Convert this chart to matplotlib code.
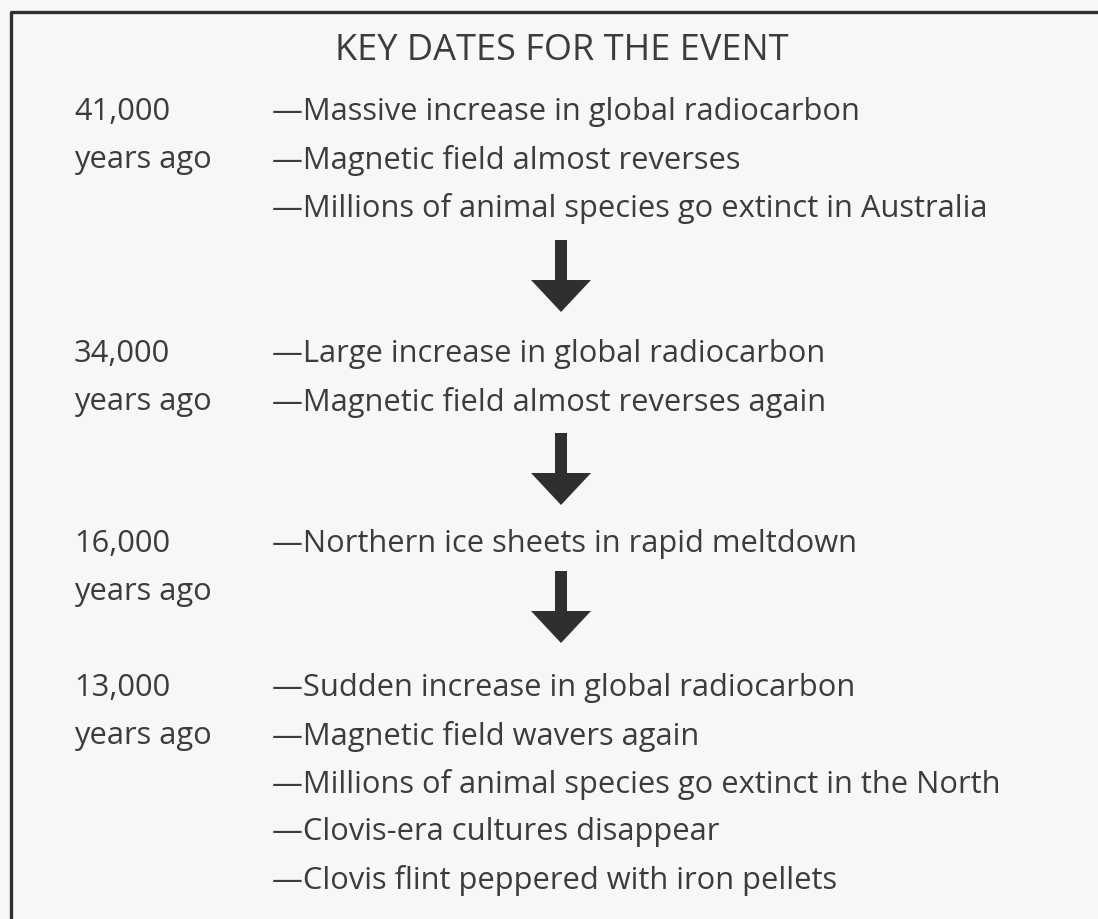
import matplotlib.pyplot as plt
from matplotlib.patches import FancyArrow

title = "KEY DATES FOR THE EVENT"
dates = ["41,000", "34,000", "16,000", "13,000"]
date_suffix = "years ago"
events = [
    ["Massive increase in global radiocarbon",
     "Magnetic field almost reverses",
     "Millions of animal species go extinct in Australia"],
    ["Large increase in global radiocarbon",
     "Magnetic field almost reverses again"],
    ["Northern ice sheets in rapid meltdown"],
    ["Sudden increase in global radiocarbon",
     "Magnetic field wavers again",
     "Millions of animal species go extinct in the North",
     "Clovis-era cultures disappear",
     "Clovis flint peppered with iron pellets"],
]

W, H = 1098, 919
bg = "#f7f7f5"
fg = "#3c3c3c"
plt.rcParams['font.family'] = ['Open Sans', 'DejaVu Sans']

fig = plt.figure(figsize=(W / 100, H / 100), dpi=100, facecolor=bg)
ax = fig.add_axes([0, 0, 1, 1])
ax.set_xlim(0, W)
ax.set_ylim(H, 0)
ax.axis('off')
ax.set_facecolor(bg)

# frame (open on right/bottom, as cropped)
ax.plot([11, 11, W], [H, 12, 12], color="#2e2e2e", lw=2.4, solid_capstyle='butt')

ax.text(562, 51, title, ha='center', va='center', fontsize=26, color=fg)

block_y = [112, 354, 544, 688]
line_gap = 48
date_x = 74
event_x = 272
fs = 22.2
for d, evs, y0 in zip(dates, events, block_y):
    ax.text(date_x, y0, d, ha='left', va='center', fontsize=fs, color=fg)
    ax.text(date_x, y0 + line_gap, date_suffix, ha='left', va='center', fontsize=fs, color=fg)
    for i, e in enumerate(evs):
        ax.text(event_x, y0 + i * line_gap, "\u2014" + e, ha='left', va='center',
                fontsize=fs, color=fg)

# arrows between blocks
arrow_tops = [240, 433, 571]
for yt in arrow_tops:
    ax.add_patch(FancyArrow(561, yt, 0, 72, width=12, head_width=60, head_length=32,
                            length_includes_head=True, color="#2f2f2f", lw=0))

fig.savefig("out.png", dpi=100, facecolor=bg)
